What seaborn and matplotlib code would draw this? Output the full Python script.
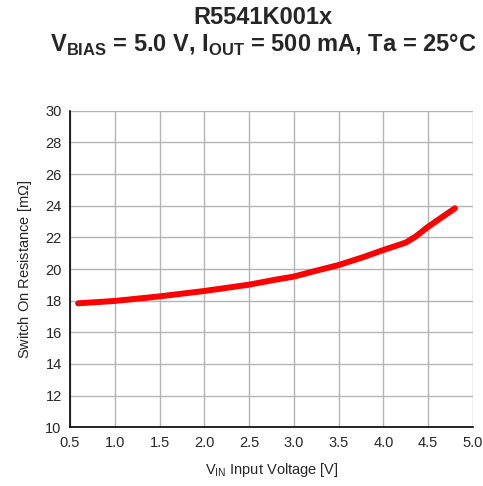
import numpy as np
import pandas as pd
import matplotlib
matplotlib.use("Agg")
import matplotlib.pyplot as plt
import seaborn as sns

# values
vin = [0.59, 1.0, 1.5, 2.0, 2.5, 2.8, 3.0, 3.2, 3.5, 3.77, 4.0, 4.25, 4.36, 4.5, 4.8]
ron = [17.83, 17.98, 18.27, 18.61, 19.01, 19.33, 19.52, 19.82, 20.25, 20.74, 21.2,
       21.67, 22.05, 22.67, 23.84]

xticks = [0.5, 1.0, 1.5, 2.0, 2.5, 3.0, 3.5, 4.0, 4.5, 5.0]
yticks = list(range(10, 31, 2))

df = pd.DataFrame({"vin": vin, "ron": ron})

sns.set_style("white")
plt.rcParams['font.family'] = ['Liberation Sans', 'DejaVu Sans']
plt.rcParams['mathtext.fontset'] = 'custom'
plt.rcParams['mathtext.rm'] = 'Liberation Sans'
plt.rcParams['mathtext.bf'] = 'Liberation Sans:bold'

fig = plt.figure(figsize=(4.83, 4.86), dpi=100)
ax = fig.add_axes([0.145, 0.121, 0.834, 0.651])

sns.lineplot(data=df, x="vin", y="ron", ax=ax, color="#ff0000", linewidth=4.3,
             solid_capstyle="round", solid_joinstyle="round", estimator=None, sort=False)

ax.set_xlim(0.5, 5.0)
ax.set_ylim(10, 30)
ax.set_xticks(xticks)
ax.set_xticklabels([f"{v:.1f}" for v in xticks])
ax.set_yticks(yticks)
ax.grid(True, color="#b4b4b4", linewidth=1.0)
for s in ["top", "right"]:
    ax.spines[s].set_visible(False)
for s in ["left", "bottom"]:
    ax.spines[s].set_color("black")
    ax.spines[s].set_linewidth(1.2)
ax.tick_params(direction="in", length=3, color="#555555", labelsize=10.5, pad=6)

ax.set_xlabel(r"V$_{\mathregular{IN}}$ Input Voltage [V]", fontsize=10.5, labelpad=8)
ax.set_ylabel(r"Switch On Resistance [m$\Omega$]", fontsize=10.5, labelpad=8)

fig.text(0.545, 0.965, "R5541K001x", ha="center", va="center",
         fontsize=17, fontweight="bold")
fig.text(0.545, 0.907,
         r"V$_{\mathbf{BIAS}}$ = 5.0 V, I$_{\mathbf{OUT}}$ = 500 mA, Ta = 25°C",
         ha="center", va="center", fontsize=17, fontweight="bold")

fig.savefig("out.png", dpi=100)
